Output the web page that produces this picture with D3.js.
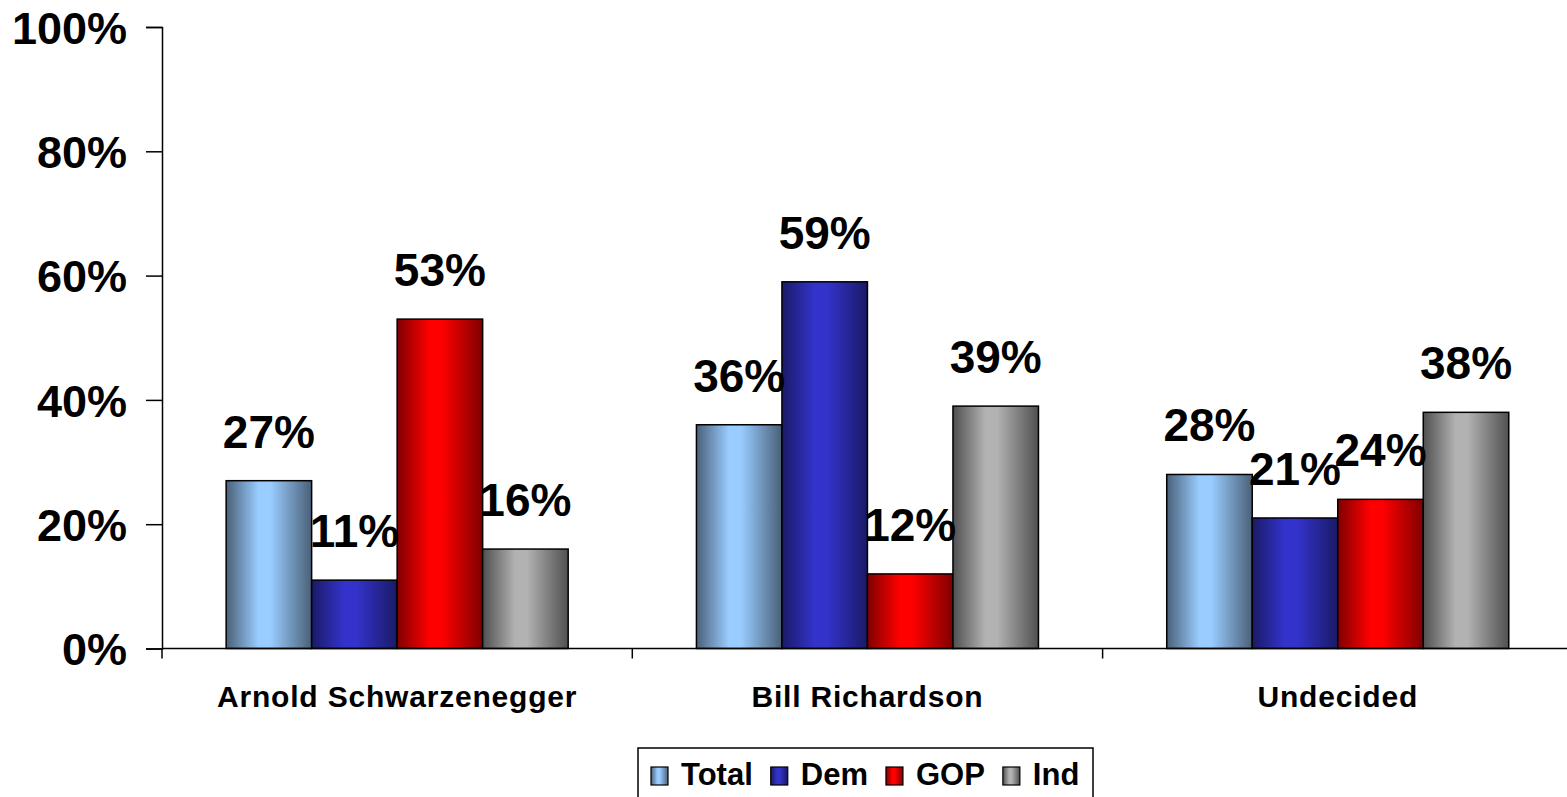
<!DOCTYPE html>
<html>
<head>
<meta charset="utf-8">
<script src="https://cdn.jsdelivr.net/npm/d3@7"></script>
<style>
  body { margin: 0; background: #fff; }
  text { font-family: Arial, "Liberation Sans", sans-serif; font-weight: bold; fill: #000; }
</style>
</head>
<body>
<div id="chart"></div>
<script>
// chart data
const categories = ['Arnold Schwarzenegger', 'Bill Richardson', 'Undecided'];
const seriesNames = ['Total', 'Dem', 'GOP', 'Ind'];
const totalValues = [27, 36, 28];
const demValues = [11, 59, 21];
const gopValues = [53, 12, 24];
const indValues = [16, 39, 38];
const yTicks = [0, 20, 40, 60, 80, 100];

// light centre / dark edge for each series
const lightColors = ['#99ccff', '#3333cc', '#ff0000', '#b2b2b2'];
const darkColors = ['#4a6078', '#1a1a66', '#800000', '#505050'];

const seriesValues = [totalValues, demValues, gopValues, indValues];

const width = 1567, height = 797;
const plotLeft = 162, plotTop = 27, plotBottom = 648.5;
const catWidth = 470.3;

const svg = d3.select('#chart').append('svg')
  .attr('width', width)
  .attr('height', height);

// gradients
const defs = svg.append('defs');
seriesNames.forEach((name, i) => {
  const g = defs.append('linearGradient')
    .attr('id', 'grad' + i)
    .attr('x1', '0%').attr('x2', '100%')
    .attr('y1', '0%').attr('y2', '0%');
  g.append('stop').attr('offset', '0%').attr('stop-color', darkColors[i]);
  g.append('stop').attr('offset', '38%').attr('stop-color', lightColors[i]);
  g.append('stop').attr('offset', '52%').attr('stop-color', lightColors[i]);
  g.append('stop').attr('offset', '100%').attr('stop-color', darkColors[i]);
});

const x0 = d3.scaleBand()
  .domain(categories)
  .range([plotLeft, plotLeft + catWidth * categories.length])
  .padding(0);

const x1 = d3.scaleBand()
  .domain(seriesNames)
  .range([0, x0.bandwidth()])
  .paddingInner(0)
  .paddingOuter(0.75);

const y = d3.scaleLinear()
  .domain([0, 100])
  .range([plotBottom, plotTop]);

// y axis
const yAxis = svg.append('g')
  .attr('transform', `translate(${plotLeft},0)`)
  .call(d3.axisLeft(y).tickValues(yTicks).tickFormat(d => d + '%').tickSize(16).tickPadding(19));
yAxis.select('.domain').attr('stroke', '#000').attr('stroke-width', 1.5);
yAxis.selectAll('.tick line').attr('stroke', '#000').attr('stroke-width', 1.5);
yAxis.selectAll('.tick text')
  .style('font-size', '45px')
  .style('font-family', 'Arial, "Liberation Sans", sans-serif')
  .style('font-weight', 'bold')
  .attr('fill', '#000')
  .attr('dy', '0.36em');

// bars
const groups = svg.selectAll('.cat')
  .data(categories)
  .enter().append('g')
  .attr('class', 'cat')
  .attr('transform', d => `translate(${x0(d)},0)`);

groups.each(function(cat, ci) {
  const g = d3.select(this);
  const rows = seriesNames.map((s, si) => ({ s, si, v: seriesValues[si][ci] }));
  g.selectAll('rect')
    .data(rows)
    .enter().append('rect')
    .attr('x', d => x1(d.s))
    .attr('y', d => y(d.v))
    .attr('width', x1.bandwidth())
    .attr('height', d => plotBottom - y(d.v))
    .attr('fill', d => 'url(#grad' + d.si + ')')
    .attr('stroke', '#000')
    .attr('stroke-width', 1.5);
  g.selectAll('text.lbl')
    .data(rows)
    .enter().append('text')
    .attr('class', 'lbl')
    .attr('x', d => x1(d.s) + x1.bandwidth() / 2)
    .attr('y', d => y(d.v) - 33)
    .attr('text-anchor', 'middle')
    .style('font-size', '46px')
    .text(d => d.v + '%');
});

// x axis
const xAxis = svg.append('g')
  .attr('transform', `translate(0,${plotBottom})`);
xAxis.append('line')
  .attr('x1', plotLeft).attr('x2', width)
  .attr('y1', 0).attr('y2', 0)
  .attr('stroke', '#000').attr('stroke-width', 1.5);
xAxis.selectAll('.xtick')
  .data(categories)
  .enter().append('line')
  .attr('x1', d => x0(d)).attr('x2', d => x0(d))
  .attr('y1', 0).attr('y2', 10)
  .attr('stroke', '#000').attr('stroke-width', 1.5);
xAxis.selectAll('.xlbl')
  .data(categories)
  .enter().append('text')
  .attr('x', d => x0(d) + x0.bandwidth() / 2)
  .attr('y', 58.5)
  .attr('text-anchor', 'middle')
  .style('font-size', '30px')
  .style('letter-spacing', '0.8px')
  .text(d => d);

// legend
const legend = svg.append('g').attr('transform', 'translate(638,748)');
legend.append('rect')
  .attr('x', 0).attr('y', 0)
  .attr('width', 455).attr('height', 60)
  .attr('fill', '#fff')
  .attr('stroke', '#000').attr('stroke-width', 1.5);
let lx = 13;
seriesNames.forEach((name, i) => {
  legend.append('rect')
    .attr('x', lx).attr('y', 19)
    .attr('width', 17).attr('height', 18)
    .attr('fill', 'url(#grad' + i + ')')
    .attr('stroke', '#000').attr('stroke-width', 1.2);
  const t = legend.append('text')
    .attr('x', lx + 30)
    .attr('y', 37)
    .style('font-size', '31px')
    .text(name);
  lx += 30 + t.node().getComputedTextLength() + 18;
});
</script>
</body>
</html>
